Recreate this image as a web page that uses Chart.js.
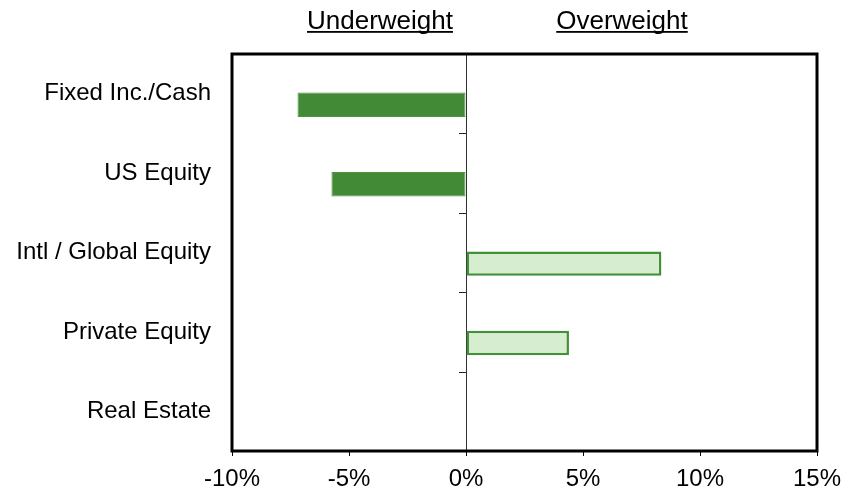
<!DOCTYPE html>
<html>
<head>
<meta charset="utf-8">
<script src="https://cdn.jsdelivr.net/npm/chart.js@4.4.1/dist/chart.umd.min.js"></script>
<style>
html,body{margin:0;padding:0;background:#fff;}
#wrap{width:859px;height:490px;position:relative;}
</style>
</head>
<body>
<div id="wrap"><canvas id="c" width="859" height="490"></canvas></div>
<script>
const categories = ['Fixed Inc./Cash', 'US Equity', 'Intl / Global Equity', 'Private Equity', 'Real Estate'];
const tiltValues = [-7.2, -5.75, 8.35, 4.4, 0];
const neutralValues = [0, 0, 0, 0, 0];
const xTicks = [-10, -5, 0, 5, 10, 15];
const headerLabels = ['Underweight', 'Overweight'];

const FONT = '"Liberation Sans", Arial, sans-serif';
const DARK = '#428a36';
const LIGHT = '#d6eecf';
const EDGE = '#43903a';

const framePlugin = {
  id: 'frame',
  afterDraw(chart) {
    const {ctx, chartArea: a, scales} = chart;
    ctx.save();
    ctx.strokeStyle = '#000';
    ctx.lineWidth = 3;
    ctx.strokeRect(a.left, a.top, a.right - a.left, a.bottom - a.top);
    // small category ticks on the zero line
    const x0 = scales.x.getPixelForValue(0);
    const y = scales.y;
    const step = y.getPixelForValue(1) - y.getPixelForValue(0);
    ctx.lineWidth = 1;
    ctx.strokeStyle = '#222';
    for (let i = 0; i < categories.length - 1; i++) {
      const py = Math.round(y.getPixelForValue(i) + step / 2) + 0.5;
      ctx.beginPath();
      ctx.moveTo(x0 - 7, py);
      ctx.lineTo(x0, py);
      ctx.stroke();
    }
    // header labels
    ctx.fillStyle = '#000';
    ctx.font = '26px ' + FONT;
    ctx.textAlign = 'center';
    ctx.textBaseline = 'alphabetic';
    const centers = [380, 622];
    headerLabels.forEach((t, i) => {
      ctx.fillText(t, centers[i], 28.5);
      const w = ctx.measureText(t).width;
      ctx.fillRect(centers[i] - w / 2, 31, w, 1.8);
    });
    ctx.restore();
  }
};

new Chart(document.getElementById('c'), {
  type: 'bar',
  data: {
    labels: categories,
    datasets: [
      {
        label: 'Neutral',
        data: neutralValues,
        backgroundColor: 'rgba(0,0,0,0)',
        borderWidth: 0
      },
      {
        label: 'Tilt',
        data: tiltValues,
        backgroundColor: tiltValues.map(v => v < 0 ? DARK : LIGHT),
        borderColor: tiltValues.map(v => v < 0 ? '#4c9540' : EDGE),
        borderWidth: tiltValues.map(v => v === 0 ? 0 : (v < 0 ? 1 : 2.5)),
        borderSkipped: false
      }
    ]
  },
  options: {
    indexAxis: 'y',
    responsive: false,
    animation: false,
    devicePixelRatio: 1,
    categoryPercentage: 0.56,
    barPercentage: 1.1,
    layout: { padding: { top: 54, right: 42, left: 0, bottom: 0 } },
    plugins: { legend: { display: false }, tooltip: { enabled: false } },
    scales: {
      x: {
        type: 'linear',
        min: -10,
        max: 15,
        afterBuildTicks(scale) { scale.ticks = xTicks.map(v => ({ value: v })); },
        afterFit(scale) { scale.height = 39; },
        border: { display: false },
        grid: {
          drawOnChartArea: true,
          drawTicks: true,
          tickLength: 5,
          tickColor: '#000',
          lineWidth: 1,
          color: ctx => (ctx.tick && ctx.tick.value === 0) ? '#333' : 'rgba(0,0,0,0)'
        },
        ticks: {
          padding: 9,
          color: '#000',
          font: { family: FONT, size: 24 },
          callback: v => v + '%'
        }
      },
      y: {
        type: 'category',
        afterFit(scale) { scale.width = 232; },
        border: { display: false },
        grid: { display: false, drawTicks: false },
        ticks: {
          padding: 21,
          color: '#000',
          font: { family: FONT, size: 24 }
        }
      }
    }
  },
  plugins: [framePlugin]
});
</script>
</body>
</html>
